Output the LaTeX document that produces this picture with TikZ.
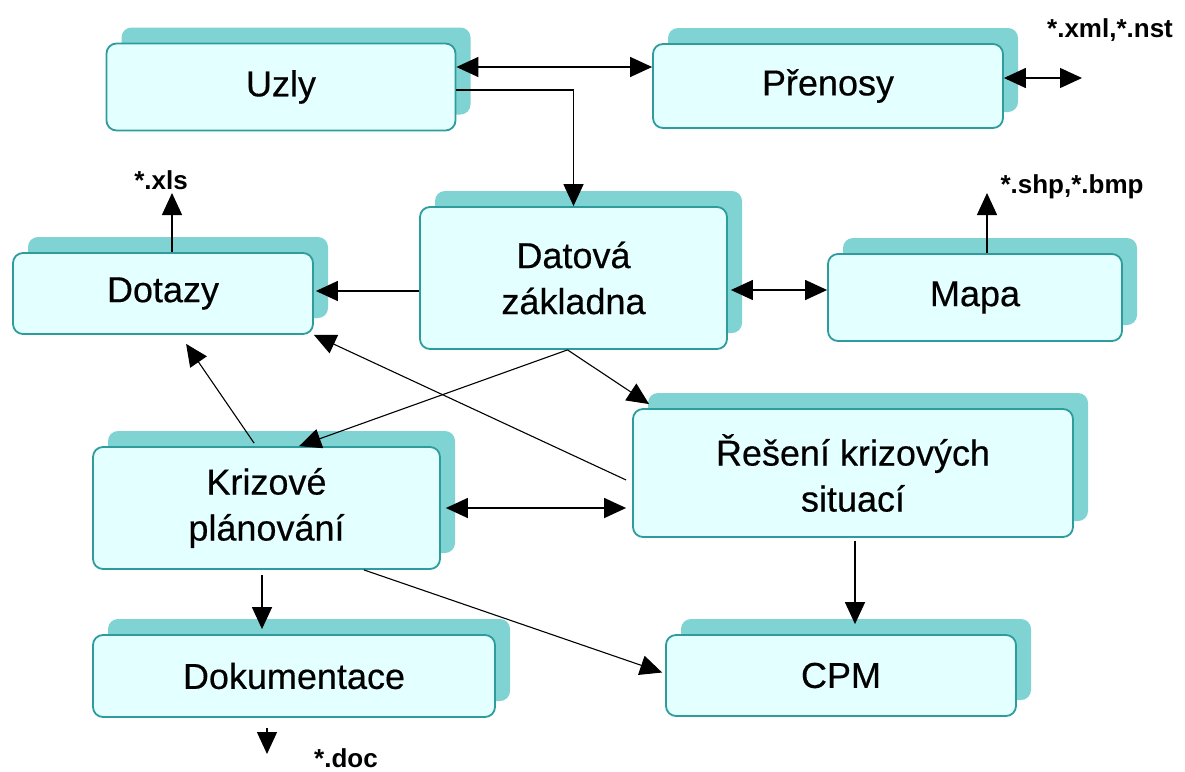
\documentclass[tikz,border=0pt]{standalone}
\usepackage{fontspec}
\setmainfont{Liberation Sans}
\newfontfamily\modulefont[FakeBold=0.4]{Liberation Sans}
\usetikzlibrary{shadows,arrows.meta,calc}

\definecolor{boxfill}{HTML}{E4FFFF}
\definecolor{boxline}{HTML}{2E9C9C}
\definecolor{boxshade}{HTML}{80D3D3}

\tikzset{
  module/.style={
    draw=boxline, line width=1.8pt, fill=boxfill,
    rounded corners=10pt, align=center,
    font=\modulefont\fontsize{36}{46}\selectfont,
    general shadow={shadow xshift=15pt, shadow yshift=16pt,
      fill=boxshade, draw=none, opacity=1}
  },
  ext/.style={font=\bfseries\fontsize{26}{30}\selectfont, inner sep=0pt, anchor=base},
  tip/.style={Triangle[length=22pt,width=20pt]},
  link/.style={line width=1.4pt, -{Triangle[length=22pt,width=20pt]}},
  thin link/.style={line width=1.1pt, -{Triangle[length=22pt,width=20pt]}},
  both/.style={line width=1.4pt, {Triangle[length=22pt,width=20pt]}-{Triangle[length=22pt,width=20pt]}}
}

\begin{document}
\begin{tikzpicture}[x=1pt, y=-1pt]
  \fill[white] (0,0) rectangle (1185,771);
  \useasboundingbox (0,0) rectangle (1185,771);

  % modules
  \node[module, minimum width=349pt, minimum height=87pt] (uzly) at (281,87) {Uzly};
  \node[module, minimum width=350pt, minimum height=84pt] (prenosy) at (828,86) {Přenosy};
  \node[module, minimum width=300pt, minimum height=81pt] (dotazy) at (163,293.5) {Dotazy};
  \node[module, minimum width=307pt, minimum height=142pt] (datova) at (573.5,278) {Datová\\základna};
  \node[module, minimum width=294pt, minimum height=87pt] (mapa) at (975,297.5) {Mapa};
  \node[module, minimum width=347pt, minimum height=122pt] (krizove) at (266.5,508) {Krizové\\plánování};
  \node[module, minimum width=440pt, minimum height=128pt] (reseni) at (853,473) {Řešení krizových\\situací};
  \node[module, minimum width=402pt, minimum height=82pt] (dokum) at (294,676) {Dokumentace};
  \node[module, minimum width=350pt, minimum height=81pt] (cpm) at (841,675.5) {CPM};

  % file formats
  \node[ext] (xls) at (161,189) {*.xls};
  \node[ext] (xml) at (1110,37) {*.xml,*.nst};
  \node[ext] (shp) at (1072,193) {*.shp,*.bmp};
  \node[ext] (doc) at (346,767) {*.doc};

  % free ends of the export arrows
  \coordinate (xmlend) at (1082,78);
  \coordinate (xlsend) at (172,193);
  \coordinate (shpend) at (987,193);
  \coordinate (docend) at (267,754);

  % connectors
  \draw[both] (uzly.east |- 0,67) -- (prenosy.west |- 0,67);
  \draw[link] (uzly.east |- 0,90) -| (datova.north);
  \draw[both] (prenosy.east |- 0,78) -- (xmlend);
  \draw[link] (dotazy.north -| xlsend) -- (xlsend);
  \draw[link] (datova.west |- 0,291) -- ($(dotazy.east |- 0,291)+(2,0)$);
  \draw[both] ($(datova.east |- 0,290)+(3,0)$) -- (mapa.west |- 0,290);
  \draw[link] (mapa.north -| shpend) -- (shpend);
  \draw[thin link] ($(datova.south)+(-6,0)$) -- ($(krizove.north west)+(207,0)$);
  \draw[thin link] ($(datova.south)+(-6,0)$) -- ($(reseni.north west)+(17,-4)$);
  \draw[thin link] ($(reseni.west)+(-6,7)$) -- (dotazy.south east);
  \draw[thin link] ($(krizove.north west)+(162,-3)$) -- ($(dotazy.south west)+(174,9)$);
  \draw[both] ($(krizove.east |- 0,508)+(5,0)$) -- ($(reseni.west |- 0,508)+(-6,0)$);
  \draw[link] ($(reseni.south -| cpm.north)+(14,3)$) -- ($(cpm.north)+(14,-10)$);
  \draw[link] ($(krizove.south -| 262,0)+(0,5)$) -- ($(dokum.north -| 262,0)+(0,-5)$);
  \draw[thin link] ($(krizove.south east)+(-77,0)$) -- ($(cpm.west)+(-3,-3)$);
  \draw[link] ($(dokum.south)+(-27,10)$) -- (docend);
\end{tikzpicture}
\end{document}
